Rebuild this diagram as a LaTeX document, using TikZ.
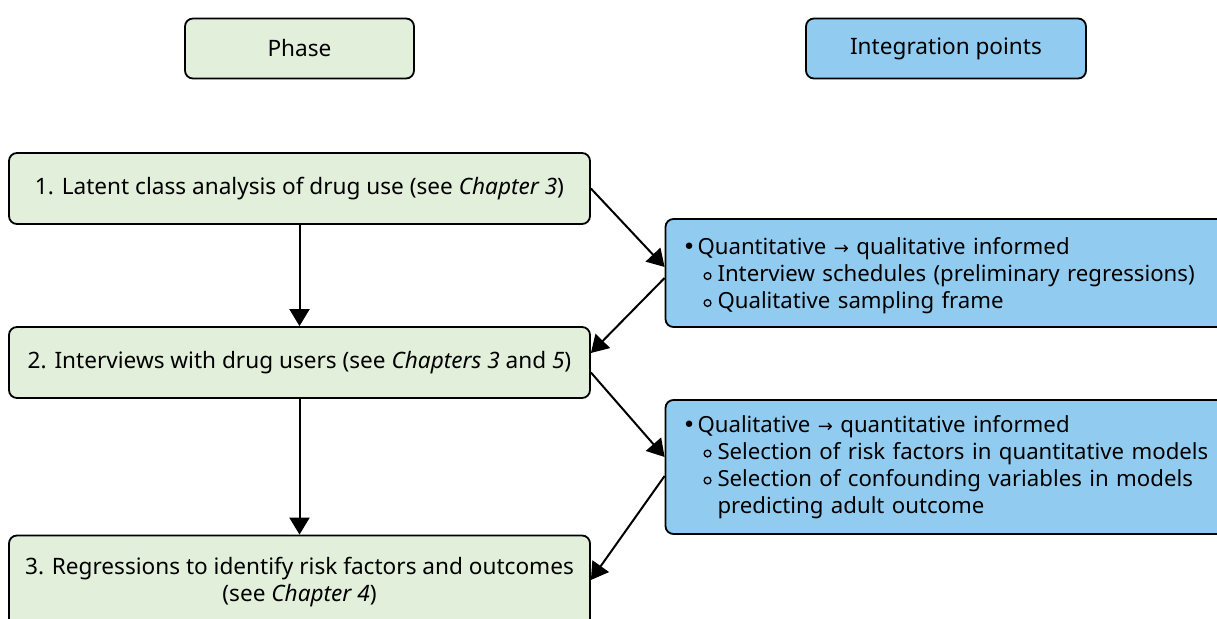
\documentclass[tikz,border=0pt]{standalone}
\usepackage{fontspec}
\setmainfont{Noto Sans}
\newfontfamily\djv{DejaVu Sans}
\usetikzlibrary{arrows.meta}
\definecolor{phgreen}{RGB}{226,239,218}
\definecolor{ipblue}{RGB}{145,204,240}
\newcommand\rarr{{\djv\small →}}
\newcommand\hollow{\tikz[baseline=0pt]\draw[line width=0.65pt] (0pt,2.9pt) circle[radius=1.7pt];}
\newcommand\lone[1]{\mbox{\makebox[7.5pt][l]{\djv •}#1}}
\newcommand\ltwo[1]{\mbox{\hspace*{10.5pt}\makebox[7pt][l]{\hollow}#1}}
\newcommand\lthree[1]{\mbox{\hspace*{17.5pt}#1}}
\begin{document}
\begin{tikzpicture}[x=0.5pt,y=-0.5pt,
  box/.style={draw=black,line width=0.9pt,rounded corners=4pt,inner sep=0pt,font=\fontsize{11.3}{13.5}\selectfont},
  green/.style={box,fill=phgreen,align=center},
  blue/.style={box,fill=ipblue,align=left,font=\fontsize{11.1}{13.5}\selectfont},
  arr/.style={line width=1pt,-{Triangle[length=8.5pt,width=10pt]}}]
\useasboundingbox (0,0) rectangle (1217,619);
\node[green,minimum width=114.5pt,minimum height=30pt] (phase) at (299.5,48.5) {Phase};
\node[blue,align=center,minimum width=140pt,minimum height=30pt,font=\fontsize{11.3}{13.5}\selectfont] (integ) at (946,48.5) {Integration points};
\node[green,minimum width=290.5pt,minimum height=35.5pt] (b1) at (299.5,188.5) {1. Latent class analysis of drug use (see \textit{Chapter 3})};
\node[green,minimum width=290.5pt,minimum height=35.5pt] (b2) at (299.5,362.5) {2. Interviews with drug users (see \textit{Chapters 3} and \textit{5})};
\node[green,minimum width=290.5pt,minimum height=46.5pt] (b3) at (299.5,582) {3. Regressions to identify risk factors and outcomes\\(see \textit{Chapter 4})};
\node[blue,minimum width=280pt,minimum height=54pt,text width=263pt] (ba) at (945.5,273) {\rule{0pt}{11.5pt}\lone{Quantitative \rarr\ qualitative informed}\\\ltwo{Interview schedules (preliminary regressions)}\\\ltwo{Qualitative sampling frame}};
\node[blue,minimum width=280pt,minimum height=67pt,text width=263pt] (bb) at (945.5,467) {\lone{Qualitative \rarr\ quantitative informed}\\\ltwo{Selection of risk factors in quantitative models}\\\ltwo{Selection of confounding variables in models}\\\lthree{predicting adult outcome}};
\draw[arr] (b1) -- (b2);
\draw[arr] (b2) -- (b3);
\draw[arr] (b1.east) -- ([yshift=3pt]ba.west);
\draw[arr] ([yshift=-2.5pt]ba.west) -- ([yshift=4.75pt]b2.east);
\draw[arr] ([yshift=-5pt]b2.east) -- ([yshift=5pt]bb.west);
\draw[arr] ([yshift=-4.5pt]bb.west) -- ([yshift=1pt]b3.east);
\end{tikzpicture}
\end{document}
